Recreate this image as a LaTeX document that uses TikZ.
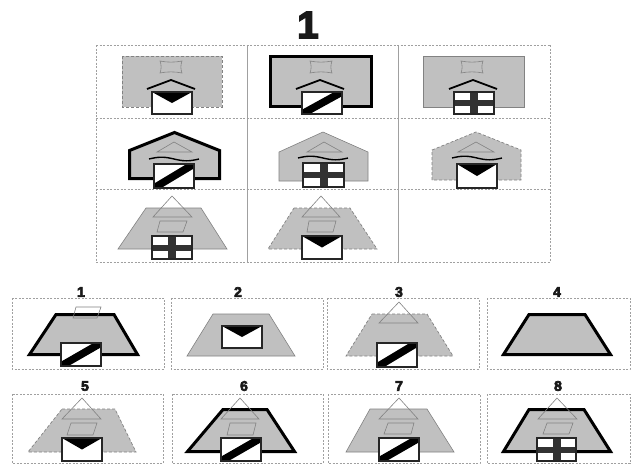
\documentclass[tikz,border=0pt]{standalone}
\usepackage{fontspec}
\newfontfamily\numfont[FakeBold=4.5]{Liberation Sans Bold}
\definecolor{shade}{RGB}{192,192,192}
\definecolor{thinc}{RGB}{130,130,130}
\definecolor{crossc}{RGB}{50,50,50}
\definecolor{gridc}{RGB}{160,160,160}
\tikzset{
  gridline/.style={gridc, line width=0.6pt, dash pattern=on 2pt off 1.5pt},
  gridsolid/.style={gridc, line width=0.7pt},
  shapethin/.style={fill=shade, draw=thinc, line width=0.6pt},
  shapedash/.style={fill=shade, draw=thinc, line width=0.7pt, dash pattern=on 3pt off 2pt},
  shapethick/.style={fill=shade, draw=black, line width=3pt, line join=miter},
  outl/.style={draw=thinc, line width=0.6pt},
  boxline/.style={draw=black!85, line width=1.1pt},
  roofline/.style={black, line width=1.8pt},
  waveline/.style={black, line width=1.4pt},
  numlab/.style={font=\numfont\fontsize{14}{14}\selectfont, inner sep=0pt, text=black!90},
}
\newcommand\envbox[4]{%
  \fill[white] (#1,#2) rectangle (#3,#4);
  \fill[black] (#1,#2) -- (#3,#2) -- ({(#1+#3)/2},{(#2+#4)/2}) -- cycle;
  \draw[boxline] (#1,#2) rectangle (#3,#4);}
\newcommand\stripebox[4]{%
  \fill[white] (#1,#2) rectangle (#3,#4);
  \begin{scope}
    \clip (#1,#2) rectangle (#3,#4);
    \draw[black, line width=7.5pt] (#1,#4) -- (#3,#2);
  \end{scope}
  \draw[boxline] (#1,#2) rectangle (#3,#4);}
\newcommand\crossbox[4]{%
  \fill[white] (#1,#2) rectangle (#3,#4);
  \fill[crossc] ({(#1+#3)/2-4},#2) rectangle ({(#1+#3)/2+4},#4);
  \fill[crossc] (#1,{(#2+#4)/2-3}) rectangle (#3,{(#2+#4)/2+3});
  \draw[boxline] (#1,#2) rectangle (#3,#4);}
\newcommand\pillow[2]{%
  \draw[outl] (#1-11,#2-6) .. controls (#1-4,#2-4.5) and (#1+4,#2-4.5) .. (#1+11,#2-6)
    .. controls (#1+9.5,#2-2) and (#1+9.5,#2+2) .. (#1+11,#2+6)
    .. controls (#1+4,#2+4.5) and (#1-4,#2+4.5) .. (#1-11,#2+6)
    .. controls (#1-9.5,#2+2) and (#1-9.5,#2-2) .. cycle;}
\newcommand\roofmark[2]{%
  \draw[roofline] (#1-24,#2+9) -- (#1,#2) -- (#1+24,#2+9);}
\newcommand\wavemark[3]{%
  \draw[waveline] plot[domain=0:1, samples=30, smooth] ({#1+\x*(#2-#1)}, {#3-1.8*sin(\x*360)});}
\begin{document}
\begin{tikzpicture}[x=1pt,y=-1pt]
\useasboundingbox (0,0) rectangle (632,464);
\fill[white] (0,0) rectangle (632,464);

% title
\node[font=\numfont\fontsize{38}{38}\selectfont, inner sep=0pt, text=black!90] (title) at (308,25) {1};

% main grid
\draw[gridline] (96,45) -- (550,45);
\draw[gridline] (96,118) -- (550,118);
\draw[gridline] (96,189.5) -- (550,189.5);
\draw[gridline] (96,262) -- (550,262);
\draw[gridline] (96,45) -- (96,262);
\draw[gridline] (550,45) -- (550,262);
\draw[gridsolid] (247,45) -- (247,262);
\draw[gridsolid] (398,45) -- (398,262);

% row 1
\draw[shapedash] (122,56) rectangle (222,107);
\pillow{171}{67}
\roofmark{171}{80}
\envbox{152}{92}{192}{114}

\draw[shapethick] (270.5,56.5) rectangle (371.5,106.5);
\pillow{321}{67}
\roofmark{320}{80}
\stripebox{302}{92}{342}{114}

\draw[shapethin] (423,56) rectangle (524,107);
\pillow{472}{67}
\roofmark{473}{80}
\crossbox{454}{92}{494}{114}

% row 2
\draw[shapethick] (129.5,178.5) -- (129.5,150.5) -- (174.5,132.5) -- (219.5,150.5) -- (219.5,178.5) -- cycle;
\draw[outl] (174,142) -- (157,152) -- (192,152) -- cycle;
\wavemark{149}{199}{159}
\stripebox{154}{164}{194}{188}

\draw[shapethin] (279,181) -- (279,152) -- (323,132) -- (368,152) -- (368,181) -- cycle;
\draw[outl] (324,142) -- (307,152) -- (342,152) -- cycle;
\wavemark{298}{348}{158}
\crossbox{303}{163}{344}{187}

\draw[shapedash] (432,180) -- (432,150) -- (476,132) -- (521,150) -- (521,180) -- cycle;
\draw[outl] (476,142) -- (458,152) -- (494,152) -- cycle;
\wavemark{452}{502}{158}
\envbox{457}{164}{497}{188}

% row 3
\draw[shapethin] (146,208) -- (201,208) -- (227,249) -- (118,249) -- cycle;
\draw[outl] (172,196) -- (153,217) -- (192,217) -- cycle;
\draw[outl] (160,221) -- (187,221) -- (183,232) -- (157,232) -- cycle;
\crossbox{152}{236}{192}{259}

\draw[shapedash] (294,208) -- (350,208) -- (377,249) -- (268,249) -- cycle;
\draw[outl] (321,196) -- (302,217) -- (340,217) -- cycle;
\draw[outl] (309,221) -- (336,221) -- (333,232) -- (307,232) -- cycle;
\envbox{302}{236}{342}{259}

% answer frames
\draw[gridline] (12,298) rectangle (164,369);
\draw[gridline] (171,298) rectangle (323,369);
\draw[gridline] (327,298) rectangle (479,369);
\draw[gridline] (487,298) rectangle (630,369);
\draw[gridline] (12,394) rectangle (163,463);
\draw[gridline] (172,394) rectangle (323,463);
\draw[gridline] (328,394) rectangle (480,463);
\draw[gridline] (487,394) rectangle (630,463);

% labels
\node[numlab] (n1) at (81,292) {1};
\node[numlab] (n2) at (238,292) {2};
\node[numlab] (n3) at (399,292) {3};
\node[numlab] (n4) at (557,292) {4};
\node[numlab] (n5) at (85,386) {5};
\node[numlab] (n6) at (244,386) {6};
\node[numlab] (n7) at (399,386) {7};
\node[numlab] (n8) at (558,386) {8};

% answer 1
\draw[shapethick] (56,314.5) -- (114,314.5) -- (137.5,354.5) -- (29.5,354.5) -- cycle;
\draw[outl] (76,307) -- (101,307) -- (97,318) -- (73,318) -- cycle;
\stripebox{61}{343}{101}{366}

% answer 2
\draw[shapethin] (213,314) -- (269,314) -- (295,356) -- (187,356) -- cycle;
\envbox{222}{326}{262}{348}

% answer 3
\draw[shapedash] (372,314) -- (427,314) -- (453,356) -- (346,356) -- cycle;
\draw[outl] (399,302) -- (379,323) -- (418,323) -- cycle;
\stripebox{377}{343}{417}{367}

% answer 4
\draw[shapethick] (529,314.5) -- (585,314.5) -- (610.5,354.5) -- (503.5,354.5) -- cycle;

% answer 5
\draw[shapedash] (62,409) -- (115,409) -- (136,452) -- (28,452) -- cycle;
\draw[outl] (82,398) -- (62,419) -- (101,419) -- cycle;
\draw[outl] (71,423) -- (97,423) -- (93,435) -- (67,435) -- cycle;
\envbox{62}{438}{102}{461}

% answer 6
\draw[shapethick] (223,409.5) -- (267,409.5) -- (294.5,451.5) -- (187.5,451.5) -- cycle;
\draw[outl] (240,398) -- (221,419) -- (259,419) -- cycle;
\draw[outl] (230,423) -- (256,423) -- (253,435) -- (227,435) -- cycle;
\stripebox{221}{438}{261}{461}

% answer 7
\draw[shapethin] (370,409) -- (427,409) -- (454,452) -- (346,452) -- cycle;
\draw[outl] (399,398) -- (379,419) -- (418,419) -- cycle;
\draw[outl] (388,423) -- (414,423) -- (411,434) -- (384,434) -- cycle;
\stripebox{379}{438}{419}{461}

% answer 8
\draw[shapethick] (529,409.5) -- (584,409.5) -- (610.5,451.5) -- (503.5,451.5) -- cycle;
\draw[outl] (557,398) -- (538,419) -- (577,419) -- cycle;
\draw[outl] (547,423) -- (573,423) -- (569,434) -- (543,434) -- cycle;
\crossbox{537}{438}{576}{461}
\end{tikzpicture}
\end{document}
